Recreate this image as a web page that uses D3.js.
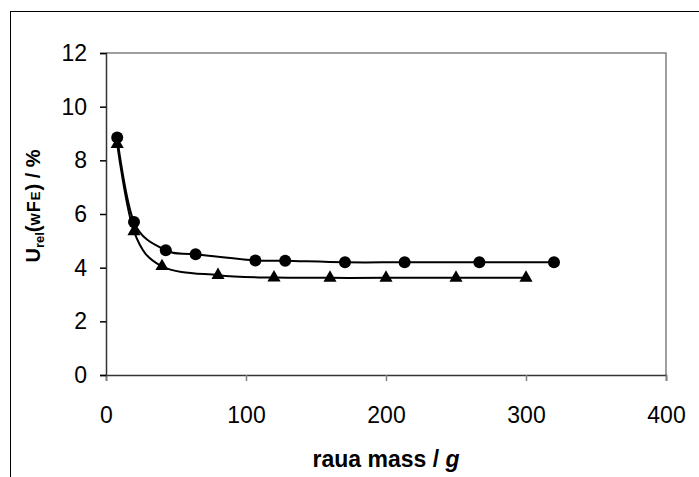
<!DOCTYPE html>
<html><head><meta charset="utf-8">
<script src="https://cdn.jsdelivr.net/npm/d3@7"></script>
<style>body{margin:0;background:#fff}svg{display:block}text{font-family:"Liberation Sans",Arial,sans-serif}</style>
</head><body>
<svg id="c" width="699" height="477"></svg>
<script>
const circleX = [8, 20, 42.7, 64, 106.7, 128, 170.7, 213.3, 266.7, 320];
const circleY = [8.85, 5.7, 4.65, 4.5, 4.27, 4.26, 4.2, 4.2, 4.2, 4.2];
const triX = [8, 20, 40, 80, 120, 160, 200, 250, 300];
const triY = [8.6, 5.35, 4.05, 3.72, 3.63, 3.62, 3.62, 3.62, 3.62];
const xTicks = [0, 100, 200, 300, 400];
const yTicks = [0, 2, 4, 6, 8, 10, 12];

const svg = d3.select("#c");
const L = 106, R = 666, T = 53, B = 375;
const x = d3.scaleLinear().domain([0, 400]).range([L, R]);
const y = d3.scaleLinear().domain([0, 12]).range([B, T]);

// outer frame
svg.append("rect").attr("x", 10.5).attr("y", 11.5).attr("width", 700).attr("height", 480)
  .attr("fill", "none").attr("stroke", "#000").attr("stroke-width", 1);

// plot top & right borders
svg.append("path").attr("d", `M${L},${T}H${R}V${B}`).attr("fill", "none")
  .attr("stroke", "#808080").attr("stroke-width", 1.5);

// x axis
const gx = svg.append("g").attr("transform", `translate(0,${B})`)
  .call(d3.axisBottom(x).tickValues(xTicks).tickSize(6).tickPadding(26));
gx.select(".domain").attr("stroke", "#333").attr("stroke-width", 1.5);
gx.selectAll(".tick line").attr("stroke", "#808080").attr("stroke-width", 1.5);
gx.selectAll(".tick text").attr("font-size", 23).attr("fill", "#000")
  .attr("font-family", "Liberation Sans, Arial, sans-serif");

// y axis
const gy = svg.append("g").attr("transform", `translate(${L},0)`)
  .call(d3.axisLeft(y).tickValues(yTicks).tickSize(6).tickPadding(13));
gy.select(".domain").attr("stroke", "#333").attr("stroke-width", 1.5);
gy.selectAll(".tick line").attr("stroke", "#000").attr("stroke-width", 1.5);
gy.selectAll(".tick text").attr("font-size", 23).attr("fill", "#000")
  .attr("font-family", "Liberation Sans, Arial, sans-serif");

// lines
const line = d3.line().x(d => x(d[0])).y(d => y(d[1])).curve(d3.curveCardinal.tension(0));
const cData = circleX.map((v, i) => [v, circleY[i]]);
const tData = triX.map((v, i) => [v, triY[i]]);
svg.append("path").attr("d", line(cData)).attr("fill", "none").attr("stroke", "#000").attr("stroke-width", 2);
svg.append("path").attr("d", line(tData)).attr("fill", "none").attr("stroke", "#000").attr("stroke-width", 2);

svg.selectAll("circle.m").data(cData).join("circle").attr("class", "m")
  .attr("cx", d => x(d[0])).attr("cy", d => y(d[1])).attr("r", 6).attr("fill", "#000");
svg.selectAll("path.t").data(tData).join("path").attr("class", "t")
  .attr("d", d3.symbol().type(d3.symbolTriangle).size(75))
  .attr("transform", d => `translate(${x(d[0])},${y(d[1])})`).attr("fill", "#000");

// x title
const xt = svg.append("text").attr("x", (L + R) / 2).attr("y", 467).attr("text-anchor", "middle")
  .attr("font-size", 23).attr("font-weight", "bold");
xt.append("tspan").text("raua mass / ");
xt.append("tspan").attr("font-style", "italic").text("g");

// y title
const yt = svg.append("text").attr("transform", "translate(40,206) rotate(-90)").attr("text-anchor", "middle")
  .attr("font-size", 20).attr("font-weight", "bold");
yt.append("tspan").text("U");
yt.append("tspan").attr("font-size", 13).attr("dy", 4).text("rel");
yt.append("tspan").attr("dy", -4).text("(");
yt.append("tspan").attr("font-variant", "small-caps").attr("letter-spacing", 1).attr("font-size", 18).text("wFe");
yt.append("tspan").text(") / %");
</script>
</body></html>
